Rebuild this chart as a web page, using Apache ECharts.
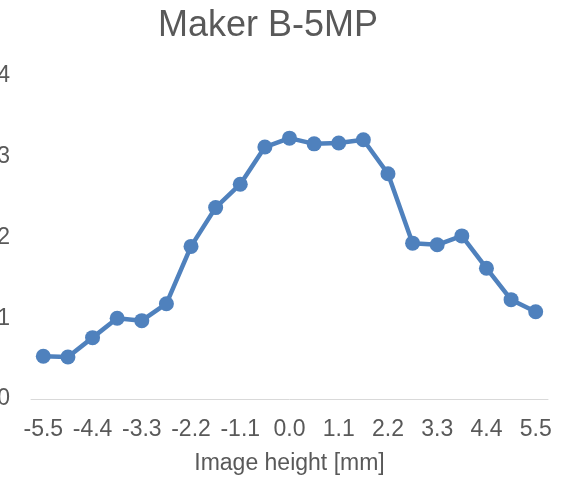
<!DOCTYPE html>
<html>
<head>
<meta charset="utf-8">
<script src="https://cdn.jsdelivr.net/npm/echarts@6/dist/echarts.min.js"></script>
<style>
  html, body { margin: 0; padding: 0; background: #fff; }
  #chart { width: 569px; height: 478px; }
</style>
</head>
<body>
<div id="chart"></div>
<script>
// Image height positions (mm), one every 0.55 mm
const heights = ['-5.5', '-4.95', '-4.4', '-3.85', '-3.3', '-2.75', '-2.2', '-1.65', '-1.1', '-0.55',
  '0.0', '0.55', '1.1', '1.65', '2.2', '2.75', '3.3', '3.85', '4.4', '4.95', '5.5'];

// Measured response at each image height
const values = [0.53, 0.52, 0.76, 1.00, 0.97, 1.18, 1.89, 2.37, 2.66, 3.12, 3.23,
  3.16, 3.17, 3.21, 2.79, 1.93, 1.91, 2.02, 1.62, 1.23, 1.08];

const yTicks = { min: 0, max: 4, step: 1 };

const textColor = '#595959';
const font = 'Liberation Sans, Arial, sans-serif';

const chart = echarts.init(document.getElementById('chart'), null, { renderer: 'canvas' });
chart.setOption({
  animation: false,
  backgroundColor: '#ffffff',
  title: {
    text: 'Maker B-5MP',
    left: 158,
    top: 8,
    padding: 0,
    textStyle: { fontFamily: font, fontSize: 36, fontWeight: 'normal', color: textColor }
  },
  grid: {
    left: 31, right: 21, top: 76, bottom: 79,
    containLabel: false,
    outerBoundsMode: 'none'
  },
  xAxis: {
    type: 'category',
    data: heights,
    boundaryGap: true,
    name: 'Image height [mm]',
    nameLocation: 'middle',
    nameGap: 53,
    nameTextStyle: { fontFamily: font, fontSize: 23, color: textColor },
    axisLine: { show: true, lineStyle: { color: '#d9d9d9', width: 1 } },
    axisTick: { show: false },
    axisLabel: {
      interval: 1,
      margin: 19,
      fontFamily: font,
      fontSize: 23,
      color: textColor
    },
    splitLine: { show: false }
  },
  yAxis: {
    type: 'value',
    min: yTicks.min,
    max: yTicks.max,
    interval: yTicks.step,
    axisLine: { show: false },
    axisTick: { show: false },
    splitLine: { show: false },
    axisLabel: {
      margin: 21,
      fontFamily: font,
      fontSize: 23,
      color: textColor
    }
  },
  series: [{
    type: 'line',
    data: values,
    symbol: 'circle',
    symbolSize: 15,
    lineStyle: { color: '#4f81bd', width: 4.5 },
    itemStyle: { color: '#4f81bd' },
    clip: false
  }]
});
</script>
</body>
</html>
